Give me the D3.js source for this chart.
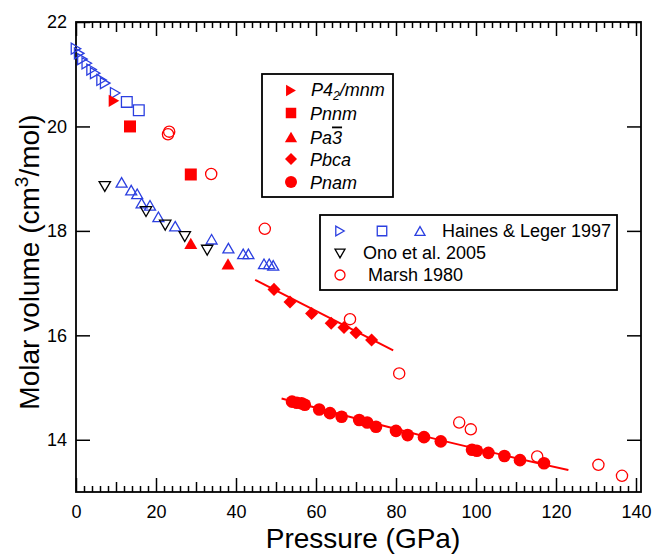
<!DOCTYPE html>
<html><head><meta charset="utf-8">
<script src="https://cdn.jsdelivr.net/npm/d3@7"></script>
<style>body{margin:0;background:#fff} svg{display:block} text{font-family:"Liberation Sans",Arial,Helvetica,sans-serif}</style>
</head><body><svg id="c" width="652" height="556"></svg>
<script>
// ---------- data ----------
const hainesRightP = [0.0, 0.8, 1.6, 2.7, 3.9, 4.8, 6.4, 7.3, 9.8];
const hainesRightV = [21.49, 21.40, 21.29, 21.21, 21.09, 21.02, 20.89, 20.83, 20.64];
const hainesSquareP = [12.7, 15.7];
const hainesSquareV = [20.47, 20.31];
const hainesUpP = [11.4, 13.8, 15.3, 16.4, 18.5, 20.6, 24.8, 33.9, 38.1, 41.8, 43.1, 47.0, 48.3, 49.3];
const hainesUpV = [18.93, 18.78, 18.71, 18.53, 18.49, 18.27, 18.09, 17.84, 17.67, 17.56, 17.56, 17.37, 17.37, 17.34];
const onoP = [7.2, 17.5, 22.3, 27.2, 32.8];
const onoV = [18.85, 18.37, 18.11, 17.89, 17.63];
const marshP = [23.0, 23.3, 33.8, 47.2, 68.5, 80.8, 95.8, 98.7, 115.3, 130.6, 136.5];
const marshV = [19.85, 19.90, 19.09, 18.04, 16.31, 15.27, 14.33, 14.20, 13.68, 13.52, 13.31];
const p42P = [9.5];
const p42V = [20.49];
const pnnmP = [13.5, 28.7];
const pnnmV = [20.00, 19.08];
const pa3P = [28.7, 38.0];
const pa3V = [17.76, 17.37];
const pbcaP = [49.5, 53.5, 58.9, 63.8, 67.0, 70.0, 73.9];
const pbcaV = [16.88, 16.64, 16.42, 16.23, 16.15, 16.05, 15.91];
const pnamP = [54.0, 55.2, 56.4, 57.2, 60.8, 63.5, 66.4, 70.8, 72.8, 75.0, 80.0, 82.9, 87.0, 91.2, 99.0, 100.2, 103.1, 107.1, 111.0, 117.0];
const pnamV = [14.73, 14.71, 14.70, 14.67, 14.58, 14.51, 14.44, 14.38, 14.33, 14.25, 14.17, 14.09, 14.05, 13.97, 13.81, 13.79, 13.75, 13.69, 13.61, 13.55];
const pbcaFitP = [44.8, 79.3];
const pbcaFitV = [17.06, 15.71];
const pnamFitP = [51.4, 87.0, 123.1];
const pnamFitV = [14.79, 14.07, 13.42];
const xMajorTicks = [0, 20, 40, 60, 80, 100, 120, 140];
const yMajorTicks = [14, 16, 18, 20, 22];

// ---------- setup ----------
const svg = d3.select("#c");
const x = d3.scaleLinear().domain([0, 141.25]).range([76, 641]);
const y = d3.scaleLinear().domain([13, 22]).range([492, 22]);
const RED = "#ff0000", BLUE = "#2b3fe0", BLACK = "#000";

const tri = {draw(ctx, size){const w=Math.sqrt(size), h=w*0.866; ctx.moveTo(0,-h/2); ctx.lineTo(w/2,h/2); ctx.lineTo(-w/2,h/2); ctx.closePath();}};
const zip = (P,V) => P.map((p,i)=>[p,V[i]]);

function pts(g, P, V, o){
  g.append("g").selectAll("path").data(zip(P,V)).join("path")
    .attr("transform", d=>`translate(${x(d[0])},${y(d[1])}) rotate(${o.rot||0})`)
    .attr("d", d3.symbol().type(o.type).size(o.size)())
    .attr("fill", o.fill||"none").attr("stroke", o.stroke||"none").attr("stroke-width", o.sw||1.3);
}

// ---------- axes ----------
const midX = d3.range(10, 141, 20);
const minorX = d3.range(2, 141, 2).filter(v => v % 10 !== 0);
function drawAxis(gen, vals, len, labels, transform, pad){
  const a = gen.tickValues(vals).tickSize(-len).tickSizeOuter(0).tickPadding(pad||0)
    .tickFormat(labels ? d3.format("d") : () => "");
  const g = svg.append("g").attr("transform", transform).call(a);
  g.select(".domain").remove();
  g.selectAll(".tick line").attr("stroke", "#000").attr("stroke-width", 1.5);
  g.selectAll(".tick text").attr("font-size", 18).attr("fill", "#000").attr("font-family", '"Liberation Sans",Arial,sans-serif');
  if (!labels) g.selectAll(".tick text").remove();
  return g;
}
drawAxis(d3.axisBottom(x), xMajorTicks, 14, true, "translate(0,492)", 13);
drawAxis(d3.axisBottom(x), midX, 10, false, "translate(0,492)");
drawAxis(d3.axisBottom(x), minorX, 6, false, "translate(0,492)");
drawAxis(d3.axisTop(x), xMajorTicks, 14, false, "translate(0,22)");
drawAxis(d3.axisTop(x), midX, 10, false, "translate(0,22)");
drawAxis(d3.axisTop(x), minorX, 6, false, "translate(0,22)");
drawAxis(d3.axisLeft(y), yMajorTicks, 14, true, "translate(76,0)", 9);
drawAxis(d3.axisRight(y), yMajorTicks, 14, false, "translate(641,0)");
svg.append("rect").attr("x", 76).attr("y", 22).attr("width", 565).attr("height", 470)
  .attr("fill", "none").attr("stroke", "#000").attr("stroke-width", 1.8);

// ---------- titles ----------
svg.append("text").attr("x", 363).attr("y", 548).attr("text-anchor", "middle")
  .attr("font-size", 28).text("Pressure (GPa)");
const yl = svg.append("text").attr("transform", "translate(39,262) rotate(-90)")
  .attr("text-anchor", "middle").attr("font-size", 28);
yl.append("tspan").text("Molar volume (cm");
yl.append("tspan").attr("baseline-shift", "11").attr("font-size", 19).text("3");
yl.append("tspan").text("/mol)");

// ---------- data marks ----------
const plot = svg.append("g");
pts(plot, marshP, marshV, {type: d3.symbolCircle, size: Math.PI*5.6*5.6, stroke: RED, sw: 1.3});
pts(plot, hainesRightP, hainesRightV, {type: tri, size: 121, rot: 90, stroke: BLUE});
pts(plot, hainesSquareP, hainesSquareV, {type: d3.symbolSquare, size: 115, stroke: BLUE});
pts(plot, hainesUpP, hainesUpV, {type: tri, size: 121, stroke: BLUE});
pts(plot, onoP, onoV, {type: tri, size: 130, rot: 180, stroke: BLACK});

const line = d3.line().x(d=>x(d[0])).y(d=>y(d[1]));
plot.append("path").attr("d", line(zip(pbcaFitP, pbcaFitV))).attr("fill","none").attr("stroke",RED).attr("stroke-width",2);
plot.append("path").attr("d", line.curve(d3.curveNatural)(zip(pnamFitP, pnamFitV))).attr("fill","none").attr("stroke",RED).attr("stroke-width",2);

pts(plot, p42P, p42V, {type: tri, size: 150, rot: 90, fill: RED});
pts(plot, pnnmP, pnnmV, {type: d3.symbolSquare, size: 144, fill: RED});
pts(plot, pa3P, pa3V, {type: tri, size: 169, fill: RED});
pts(plot, pbcaP, pbcaV, {type: d3.symbolSquare, size: 85, rot: 45, fill: RED});
pts(plot, pnamP, pnamV, {type: d3.symbolCircle, size: Math.PI*6.3*6.3, fill: RED});

// ---------- legend 1 (phases) ----------
const L1 = svg.append("g");
L1.append("rect").attr("x", 262).attr("y", 74).attr("width", 131).attr("height", 123)
  .attr("fill", "#fff").attr("stroke", "#000").attr("stroke-width", 1.8);
const l1Sym = [
  {type: tri, size: 130, rot: 90},
  {type: d3.symbolSquare, size: 110, rot: 0},
  {type: tri, size: 150, rot: 0},
  {type: d3.symbolSquare, size: 72, rot: 45},
  {type: d3.symbolCircle, size: Math.PI*36, rot: 0}
];
const l1Y = [90.5, 113, 137, 159, 182];
l1Sym.forEach((s, i) => {
  L1.append("path").attr("transform", `translate(291,${l1Y[i]}) rotate(${s.rot})`)
    .attr("d", d3.symbol().type(s.type).size(s.size)()).attr("fill", RED);
});
const t1 = L1.append("g").attr("font-size", 18).attr("font-style", "italic").attr("fill", "#000");
let t = t1.append("text").attr("x", 311).attr("y", l1Y[0] + 5.5);
t.append("tspan").text("P4");
t.append("tspan").attr("baseline-shift", "-3.5").attr("font-size", 12).text("2");
t.append("tspan").text("/mnm");
t1.append("text").attr("x", 310).attr("y", l1Y[1] + 6.5).text("Pnnm");
t = t1.append("text").attr("x", 310).attr("y", l1Y[2] + 6.5);
t.append("tspan").text("Pa");
t.append("tspan").attr("style", "text-decoration: overline").text("3");
t1.append("text").attr("x", 310).attr("y", l1Y[3] + 6.5).text("Pbca");
t1.append("text").attr("x", 310).attr("y", l1Y[4] + 6.5).text("Pnam");

// ---------- legend 2 (sources) ----------
const L2 = svg.append("g");
L2.append("rect").attr("x", 320).attr("y", 215).attr("width", 297).attr("height", 75)
  .attr("fill", "#fff").attr("stroke", "#000").attr("stroke-width", 1.8);
const sy = [231, 253.5, 275];
L2.append("path").attr("transform", `translate(340,${sy[0]}) rotate(90)`).attr("d", d3.symbol().type(tri).size(95)()).attr("fill","none").attr("stroke",BLUE).attr("stroke-width",1.3);
L2.append("path").attr("transform", `translate(382,${sy[0]})`).attr("d", d3.symbol().type(d3.symbolSquare).size(90)()).attr("fill","none").attr("stroke",BLUE).attr("stroke-width",1.3);
L2.append("path").attr("transform", `translate(420,${sy[0]})`).attr("d", d3.symbol().type(tri).size(100)()).attr("fill","none").attr("stroke",BLUE).attr("stroke-width",1.3);
L2.append("path").attr("transform", `translate(340,${sy[1]}) rotate(180)`).attr("d", d3.symbol().type(tri).size(100)()).attr("fill","none").attr("stroke",BLACK).attr("stroke-width",1.3);
L2.append("path").attr("transform", `translate(340,${sy[2]})`).attr("d", d3.symbol().type(d3.symbolCircle).size(Math.PI*25)()).attr("fill","none").attr("stroke",RED).attr("stroke-width",1.3);
const t2 = L2.append("g").attr("font-size", 18).attr("fill", "#000");
t2.append("text").attr("x", 442).attr("y", 236.5).text("Haines & Leger 1997");
t2.append("text").attr("x", 363).attr("y", 258.5).text("Ono et al. 2005");
t2.append("text").attr("x", 368).attr("y", 280.5).text("Marsh 1980");
</script></body></html>
